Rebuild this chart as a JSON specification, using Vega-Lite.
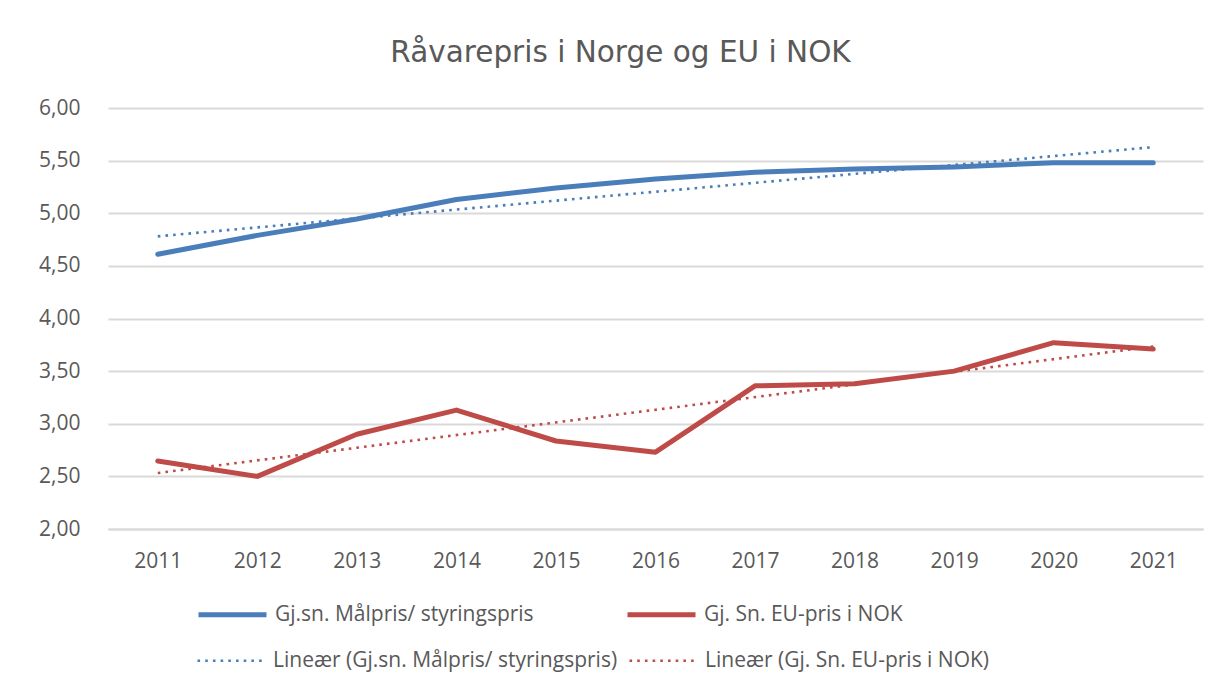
{
  "$schema": "https://vega.github.io/schema/vega-lite/v6.json",
  "autosize": "none",
  "width": 1095,
  "height": 421,
  "padding": {"left": 108, "top": 108, "right": 27, "bottom": 157},
  "background": "white",
  "title": {
    "text": "Råvarepris i Norge og EU i NOK",
    "fontSize": 29.5,
    "font": "DejaVu Sans",
    "fontWeight": "normal",
    "color": "#595959",
    "anchor": "middle",
    "baseline": "alphabetic",
    "offset": 6,
    "dx": -35
  },
  "config": {
    "locale": {"number": {"decimal": ",", "thousands": " ", "grouping": [3], "currency": ["", " kr"]}},
    "view": {"stroke": null},
    "axis": {"labelFont": "Open Sans", "labelFontSize": 21, "labelColor": "#595959", "ticks": false, "title": null},
    "legend": {
      "orient": "none",
      "title": null,
      "columns": 2,
      "symbolType": "stroke",
      "symbolSize": 4624,
      "labelFont": "Open Sans",
      "labelFontSize": 21,
      "labelColor": "#595959",
      "labelOffset": 6,
      "labelLimit": 0,
      "rowPadding": 0
    }
  },
  "data": {
    "values": [
      {"year": 2011, "serie": "Gj.sn. Målpris/ styringspris", "trend": "Lineær (Gj.sn. Målpris/ styringspris)", "value": 4.61},
      {"year": 2012, "serie": "Gj.sn. Målpris/ styringspris", "trend": "Lineær (Gj.sn. Målpris/ styringspris)", "value": 4.79},
      {"year": 2013, "serie": "Gj.sn. Målpris/ styringspris", "trend": "Lineær (Gj.sn. Målpris/ styringspris)", "value": 4.945},
      {"year": 2014, "serie": "Gj.sn. Målpris/ styringspris", "trend": "Lineær (Gj.sn. Målpris/ styringspris)", "value": 5.13},
      {"year": 2015, "serie": "Gj.sn. Målpris/ styringspris", "trend": "Lineær (Gj.sn. Målpris/ styringspris)", "value": 5.24},
      {"year": 2016, "serie": "Gj.sn. Målpris/ styringspris", "trend": "Lineær (Gj.sn. Målpris/ styringspris)", "value": 5.325},
      {"year": 2017, "serie": "Gj.sn. Målpris/ styringspris", "trend": "Lineær (Gj.sn. Målpris/ styringspris)", "value": 5.39},
      {"year": 2018, "serie": "Gj.sn. Målpris/ styringspris", "trend": "Lineær (Gj.sn. Målpris/ styringspris)", "value": 5.42},
      {"year": 2019, "serie": "Gj.sn. Målpris/ styringspris", "trend": "Lineær (Gj.sn. Målpris/ styringspris)", "value": 5.44},
      {"year": 2020, "serie": "Gj.sn. Målpris/ styringspris", "trend": "Lineær (Gj.sn. Målpris/ styringspris)", "value": 5.48},
      {"year": 2021, "serie": "Gj.sn. Målpris/ styringspris", "trend": "Lineær (Gj.sn. Målpris/ styringspris)", "value": 5.48},
      {"year": 2011, "serie": "Gj. Sn. EU-pris i NOK", "trend": "Lineær (Gj. Sn. EU-pris i NOK)", "value": 2.646},
      {"year": 2012, "serie": "Gj. Sn. EU-pris i NOK", "trend": "Lineær (Gj. Sn. EU-pris i NOK)", "value": 2.5},
      {"year": 2013, "serie": "Gj. Sn. EU-pris i NOK", "trend": "Lineær (Gj. Sn. EU-pris i NOK)", "value": 2.9},
      {"year": 2014, "serie": "Gj. Sn. EU-pris i NOK", "trend": "Lineær (Gj. Sn. EU-pris i NOK)", "value": 3.13},
      {"year": 2015, "serie": "Gj. Sn. EU-pris i NOK", "trend": "Lineær (Gj. Sn. EU-pris i NOK)", "value": 2.836},
      {"year": 2016, "serie": "Gj. Sn. EU-pris i NOK", "trend": "Lineær (Gj. Sn. EU-pris i NOK)", "value": 2.73},
      {"year": 2017, "serie": "Gj. Sn. EU-pris i NOK", "trend": "Lineær (Gj. Sn. EU-pris i NOK)", "value": 3.36},
      {"year": 2018, "serie": "Gj. Sn. EU-pris i NOK", "trend": "Lineær (Gj. Sn. EU-pris i NOK)", "value": 3.38},
      {"year": 2019, "serie": "Gj. Sn. EU-pris i NOK", "trend": "Lineær (Gj. Sn. EU-pris i NOK)", "value": 3.5},
      {"year": 2020, "serie": "Gj. Sn. EU-pris i NOK", "trend": "Lineær (Gj. Sn. EU-pris i NOK)", "value": 3.77},
      {"year": 2021, "serie": "Gj. Sn. EU-pris i NOK", "trend": "Lineær (Gj. Sn. EU-pris i NOK)", "value": 3.71}
    ]
  },
  "encoding": {
    "x": {
      "field": "year",
      "type": "quantitative",
      "scale": {"domain": [2010.5, 2021.5], "nice": false, "zero": false},
      "axis": {
        "values": [2011, 2012, 2013, 2014, 2015, 2016, 2017, 2018, 2019, 2020, 2021],
        "format": "d",
        "grid": false,
        "domain": true,
        "domainColor": "#D9D9D9",
        "domainWidth": 2,
        "labelPadding": 21,
        "labelFlush": false
      }
    },
    "y": {
      "field": "value",
      "type": "quantitative",
      "scale": {"domain": [2, 6], "nice": false, "zero": false},
      "axis": {
        "values": [2, 2.5, 3, 3.5, 4, 4.5, 5, 5.5, 6],
        "format": ".2f",
        "domain": false,
        "grid": true,
        "gridColor": "#D9D9D9",
        "gridWidth": 2,
        "labelPadding": 28
      }
    }
  },
  "resolve": {"scale": {"color": "independent"}, "legend": {"color": "independent"}},
  "layer": [
    {
      "mark": {"type": "line", "strokeCap": "round", "strokeJoin": "round", "strokeWidth": 5},
      "encoding": {
        "color": {
          "field": "serie", "type": "nominal",
          "scale": {"domain": ["Gj.sn. Målpris/ styringspris", "Gj. Sn. EU-pris i NOK"], "range": ["#4A7EBB", "#BE4B48"]},
          "legend": {"legendX": 88, "legendY": 470, "symbolStrokeWidth": 5, "columnPadding": 83}
        }
      }
    },
    {
      "transform": [{"regression": "value", "on": "year", "groupby": ["trend"]}],
      "mark": {"type": "line", "strokeCap": "butt", "strokeWidth": 2.6, "strokeDash": [2.6, 5.1]},
      "encoding": {
        "color": {
          "field": "trend", "type": "nominal",
          "scale": {"domain": ["Lineær (Gj.sn. Målpris/ styringspris)", "Lineær (Gj. Sn. EU-pris i NOK)"], "range": ["#4A7EBB", "#BE4B48"]},
          "legend": {"legendX": 88, "legendY": 517, "symbolStrokeWidth": 2.6, "symbolDash": [2.6, 5.1], "columnPadding": 6}
        }
      }
    }
  ]
}
